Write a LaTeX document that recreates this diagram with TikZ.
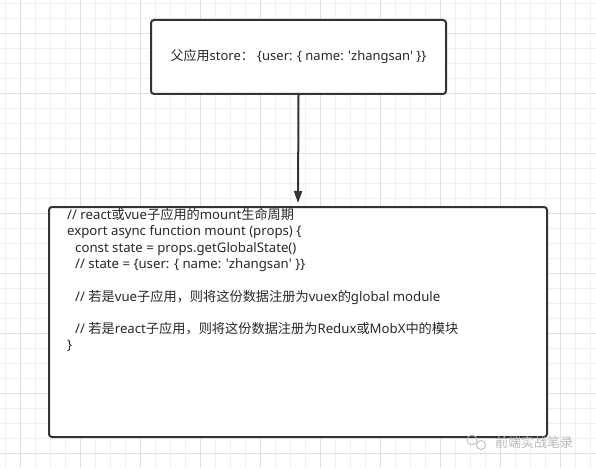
\documentclass[tikz,border=0pt]{standalone}
\usepackage{fontspec}
\setmainfont{Noto Sans}
\newfontfamily\cjk{Noto Sans CJK SC}
\newcommand{\zh}[1]{{\cjk #1}}
\usetikzlibrary{arrows.meta}
\definecolor{gridminor}{RGB}{240,240,240}
\definecolor{gridmajor}{RGB}{224,224,224}
\definecolor{ink}{RGB}{51,51,51}
\definecolor{txt}{RGB}{40,40,40}
\definecolor{wm}{RGB}{185,185,185}
\newcommand{\q}{\textquotesingle}
\tikzset{
  boxnode/.style={draw=ink, line width=2pt, fill=white, rounded corners=3pt, inner sep=0pt},
  conn/.style={draw=ink, line width=2pt, -{Triangle[length=12pt,width=8pt]}, shorten >=3pt},
  codetext/.style={font=\fontsize{13.2}{16.3}\selectfont, text=txt, align=left, inner sep=0pt},
}
\begin{document}
\begin{tikzpicture}[x=1pt,y=-1pt]
\useasboundingbox (0,0) rectangle (596,468);
\fill[white] (0,0) rectangle (596,468);
% grid
\foreach \gx in {5,20,...,595} \draw[gridminor, line width=1pt] (\gx,0) -- (\gx,468);
\foreach \gy in {3.3,18.3,...,468} \draw[gridminor, line width=1pt] (0,\gy) -- (596,\gy);
\foreach \gx in {20,80,...,595} \draw[gridmajor, line width=1pt] (\gx,0) -- (\gx,468);
\foreach \gy in {33.3,93.3,...,468} \draw[gridmajor, line width=1pt] (0,\gy) -- (596,\gy);
% boxes
\node[boxnode, minimum width=295pt, minimum height=74pt, font=\fontsize{13}{15}\selectfont, text=txt] (parent) at (298.5,57)
  {\zh{父应用}store\zh{：}\ \{user: \{ name: \q zhangsan\q\ \}\}};
\node[boxnode, minimum width=498pt, minimum height=230pt] (child) at (298,322) {};
\node[codetext, anchor=base west] (code) at (67,349.9) {%
// react\zh{或}vue\zh{子应用的}mount\zh{生命周期}\\
export async function mount (props) \{\\
\hspace*{8pt}const state = props.getGlobalState()\\
\hspace*{8pt}// state = \{user: \{ name: \q zhangsan\q\ \}\}\\
\mbox{}\\
\hspace*{8pt}// \zh{若是}vue\zh{子应用，则将这份数据注册为}vuex\zh{的}global module\\
\mbox{}\\
\hspace*{8pt}// \zh{若是}react\zh{子应用，则将这份数据注册为}Redux\zh{或}MobX\zh{中的模块}\\
\}};
\draw[conn] (parent.south) -- (child.north);
% watermark
\node[font=\fontsize{13}{15}\selectfont\cjk, text=wm, anchor=west, inner sep=0pt] (wmtext) at (495,443) {前端实战笔录};
\draw[wm, line width=0.8pt] (472,440) circle (5pt);
\draw[wm, line width=0.8pt] (481,445) circle (4.5pt);
\end{tikzpicture}
\end{document}
